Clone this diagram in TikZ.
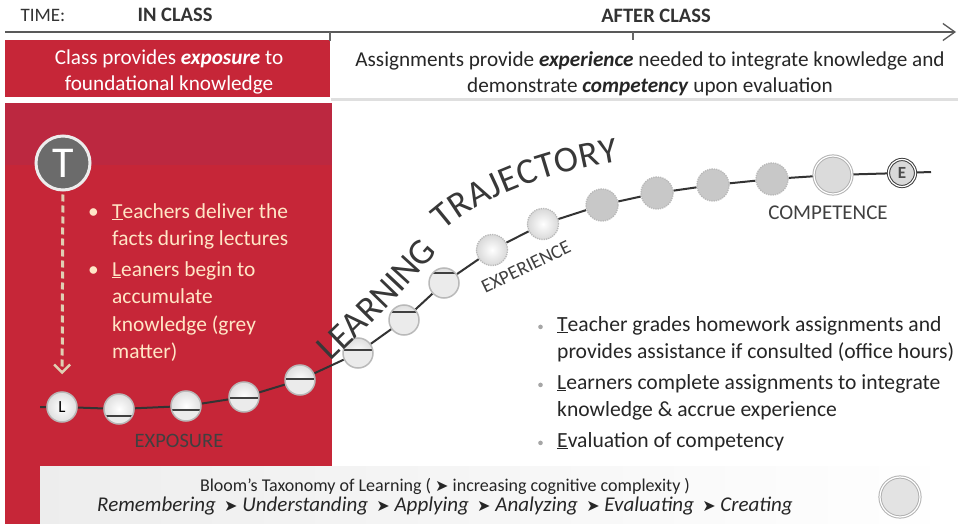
\documentclass[tikz,border=0pt]{standalone}
\usepackage{fontspec}
\setmainfont{Carlito}
\newfontfamily\symfont{DejaVu Sans}
\usetikzlibrary{arrows.meta,positioning,backgrounds,decorations.text}
\definecolor{redbg}{RGB}{198,38,56}
\definecolor{redtop}{RGB}{188,40,64}
\definecolor{cream}{RGB}{255,230,198}
\definecolor{dashtan}{RGB}{224,206,178}
\definecolor{beadgrey}{RGB}{200,200,200}
\tikzstyle{redpanel} = [rectangle, fill=redbg, inner sep=0pt]
\tikzstyle{bead} = [circle, draw=gray!55, line width=1.5pt, minimum size=30pt,
  inner sep=0pt, inner color=white, outer color=gray!25]
\tikzstyle{lightbead} = [circle, draw=gray!55, densely dotted, line width=1.3pt,
  minimum size=31pt, inner sep=0pt, inner color=white, outer color=gray!30]
\tikzstyle{greybead} = [circle, draw=gray!55, densely dotted, line width=1.3pt,
  fill=beadgrey, minimum size=32pt, inner sep=0pt]
\tikzstyle{traj} = [draw, line width=2pt, color=black!80]
\tikzstyle{stage} = [text=black!75, inner sep=0pt]
\tikzset{
  level/.style={path picture={
    \fill[gray!16] ([yshift=#1pt]path picture bounding box.west) rectangle
      (path picture bounding box.south east);
    \draw[black!75, line width=1.2pt] ([yshift=#1pt]path picture bounding box.west) --
      ([yshift=#1pt]path picture bounding box.east);
  }},
  curved title/.style 2 args={decorate, decoration={text along path, text align=#1,
    text={|\fontsize{36.5}{36.5}\selectfont\color{black!78}|#2}}}
}
\newcommand{\barr}{{\symfont\fontsize{16}{16}\selectfont ➤}}
\newcommand{\lbul}{\makebox[26pt][l]{\hspace{2pt}\textbullet}}
\newcommand{\rbul}{\makebox[19pt][l]{\raisebox{2pt}{\tikz\fill[gray!70] circle (2.3pt);}}}

\begin{document}
\begin{tikzpicture}[x=1pt, y=-1pt]
  \useasboundingbox (0,0) rectangle (958,524);
  \begin{pgfonlayer}{background}
    \fill [white] (0,0) rectangle (958,524);
  \end{pgfonlayer}

  %%%%%%%%%%%%%%%%%%%%%%%%%%%%%%%%%%%%%%%%%%%%%%%%%%%%%%%%%%%%%%
  %                    TIME LINE                               %
  %%%%%%%%%%%%%%%%%%%%%%%%%%%%%%%%%%%%%%%%%%%%%%%%%%%%%%%%%%%%%%

  \node [anchor=west, font=\fontsize{19}{19}\selectfont, text=black!80] (time) at (17,15) {TIME:};
  \node [font=\fontsize{20.5}{20.5}\selectfont\bfseries, text=black!80] (in-class) at (175,15) {IN CLASS};
  \node [font=\fontsize{20.5}{20.5}\selectfont\bfseries, text=black!80] (after-class) at (656,16) {AFTER CLASS};
  \coordinate (tstart) at (5,32);
  \coordinate (tend) at (956,32);
  \draw [line width=2.5pt, black!65, -{Straight Barb[length=12pt,width=17pt,line width=1.3pt]}] (tstart) -- (tend);
  \draw [line width=1.5pt, black!60] (330,32) -- (330,41);
  \draw [line width=1.5pt, black!60] (633,32) -- (633,40);

  %%%%%%%%%%%%%%%%%%%%%%%%%%%%%%%%%%%%%%%%%%%%%%%%%%%%%%%%%%%%%%
  %                    HEADERS                                 %
  %%%%%%%%%%%%%%%%%%%%%%%%%%%%%%%%%%%%%%%%%%%%%%%%%%%%%%%%%%%%%%

  \begin{pgfonlayer}{background}
    \node [redpanel, anchor=north west, minimum width=325pt, minimum height=57pt] (class-header) at (5,40) {};
    \node [redpanel, anchor=north west, minimum width=327pt, minimum height=421pt] (class-panel) at (5,103) {};
    \node [redpanel, fill=redtop, anchor=north west, minimum width=327pt, minimum height=62pt] (class-band) at (5,103) {};
  \end{pgfonlayer}
  \draw [gray!25, line width=3pt] (331,100) -- (958,100);

  \node [align=center, text=white, font=\fontsize{21.2}{26}\selectfont] (class-text) at (169,72) {
    Class provides \textbf{\textit{exposure}} to\\
    foundational knowledge
  };
  \node [align=center, text=black!85, font=\fontsize{21.2}{26}\selectfont] (assign-text) at (650,74) {
    Assignments provide \textbf{\textit{experience}} needed to integrate knowledge and\\
    demonstrate \textbf{\textit{competency}} upon evaluation
  };

  %%%%%%%%%%%%%%%%%%%%%%%%%%%%%%%%%%%%%%%%%%%%%%%%%%%%%%%%%%%%%%
  %                    IN CLASS                                %
  %%%%%%%%%%%%%%%%%%%%%%%%%%%%%%%%%%%%%%%%%%%%%%%%%%%%%%%%%%%%%%

  \node [circle, draw=white!85!gray, line width=3pt, fill=black!58, minimum size=54pt, inner sep=0pt,
    text=white, font=\fontsize{44}{44}\selectfont] (T) at (63,163) {T};
  \node [bead, text=black, font=\fontsize{17}{17}\selectfont] (L) at (62,407) {L};
  \draw [dashtan, line width=3pt, dash pattern=on 7pt off 4pt, shorten <=3pt, shorten >=17pt,
    -{Straight Barb[length=8pt,width=16pt,line width=2.5pt]}] (T) -- (L);

  \node [anchor=north west, align=left, text=cream, inner sep=0pt,
    font=\fontsize{21.4}{27.5}\selectfont] (class-bullets) at (86,203) {
    \lbul\underline{T}eachers deliver the\\
    \hspace{26pt}facts during lectures\\[3pt]
    \lbul\underline{L}eaners begin to\\
    \hspace{26pt}accumulate\\
    \hspace{26pt}knowledge (grey\\
    \hspace{26pt}matter)
  };

  %%%%%%%%%%%%%%%%%%%%%%%%%%%%%%%%%%%%%%%%%%%%%%%%%%%%%%%%%%%%%%
  %                    LEARNING TRAJECTORY                     %
  %%%%%%%%%%%%%%%%%%%%%%%%%%%%%%%%%%%%%%%%%%%%%%%%%%%%%%%%%%%%%%

  \foreach \n/\x/\y/\lv in {1/119/409/-7, 2/186/406/-4, 3/244/397/-1, 4/300/380/1,
      5/358/353/3, 6/404/320/8, 7/444/283/10}
    \node [bead, level=\lv] (b\n) at (\x,\y) {};
  \node [lightbead] (b8) at (492,250) {};
  \node [lightbead] (b9) at (543,224) {};
  \foreach \n/\x/\y in {10/602/205, 11/657/193, 12/713/185, 13/772/179}
    \node [greybead] (b\n) at (\x,\y) {};
  \node [circle, draw=gray!60, double=white, double distance=1.2pt, line width=1pt,
    fill=gray!28, minimum size=38pt, inner sep=0pt] (b14) at (833,175) {};
  \node [circle, draw=black!75, double=white, double distance=1.2pt, line width=1pt,
    fill=gray!30, minimum size=27pt, inner sep=0pt, font=\fontsize{17}{17}\selectfont\bfseries,
    text=black!70] (E) at (902,173) {E};
  \coordinate (trajstart) at (40,407);
  \coordinate (trajend) at (931,172);

  \begin{pgfonlayer}{background}
    \draw [traj] (trajstart) -- (L) -- (b1) -- (b2) -- (b3) -- (b4) -- (b5) -- (b6) -- (b7)
      -- (b8) -- (b9) -- (b10) -- (b11) -- (b12) -- (b13) -- (b14) -- (E) -- (trajend);
  \end{pgfonlayer}

  \path [curved title={left}{LEARNING}] (331,362) .. controls (361,333) and (404,293) .. (446,242);
  \path [curved title={fit to path}{TRAJECTORY}] (444,231) .. controls (482,196) and (550,172) .. (619,161);

  \node [stage, font=\fontsize{20.5}{20.5}\selectfont] (exposure) at (179,441) {EXPOSURE};
  \node [stage, rotate=26, font=\fontsize{19.5}{19.5}\selectfont] (experience) at (526,267) {EXPERIENCE};
  \node [stage, font=\fontsize{21}{21}\selectfont] (competence) at (828,213) {COMPETENCE};

  %%%%%%%%%%%%%%%%%%%%%%%%%%%%%%%%%%%%%%%%%%%%%%%%%%%%%%%%%%%%%%
  %                    AFTER CLASS                             %
  %%%%%%%%%%%%%%%%%%%%%%%%%%%%%%%%%%%%%%%%%%%%%%%%%%%%%%%%%%%%%%

  \node [anchor=north west, align=left, text=black!85, inner sep=0pt,
    font=\fontsize{21.6}{27}\selectfont] (after-bullets) at (538,316) {
    \rbul\underline{T}eacher grades homework assignments and\\
    \hspace{19pt}provides assistance if consulted (office hours)\\[4pt]
    \rbul\underline{L}earners complete assignments to integrate\\
    \hspace{19pt}knowledge \& accrue experience\\[4pt]
    \rbul\underline{E}valuation of competency
  };

  %%%%%%%%%%%%%%%%%%%%%%%%%%%%%%%%%%%%%%%%%%%%%%%%%%%%%%%%%%%%%%
  %                    BLOOM'S TAXONOMY                        %
  %%%%%%%%%%%%%%%%%%%%%%%%%%%%%%%%%%%%%%%%%%%%%%%%%%%%%%%%%%%%%%

  \node [anchor=north west, left color=gray!14, right color=white, minimum width=915pt,
    minimum height=58pt, inner sep=0pt] (bloom-panel) at (40,466) {};
  \node [align=center, text=black!85, inner sep=0pt] (bloom-text) at (445,497) {
    {\fontsize{18}{18}\selectfont Bloom’s Taxonomy of Learning ( \barr\ increasing cognitive complexity )}\\[1pt]
    {\fontsize{21}{21}\selectfont\itshape Remembering \,\barr\ Understanding \,\barr\ Applying \,\barr\
      Analyzing \,\barr\ Evaluating \,\barr\ Creating}
  };
  \node [circle, draw=gray!60, double=white, double distance=1.2pt, line width=1pt,
    fill=gray!22, minimum size=40pt, inner sep=0pt] (legend) at (900,497) {};

\end{tikzpicture}
\end{document}
